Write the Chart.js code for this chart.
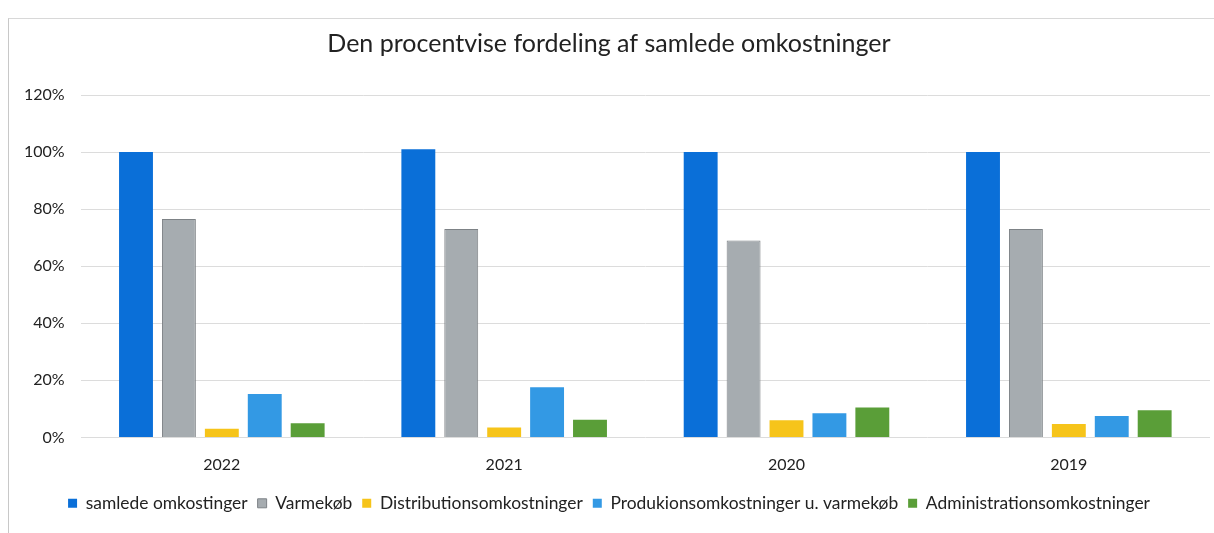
<!DOCTYPE html>
<html>
<head>
<meta charset="utf-8">
<script src="https://cdn.jsdelivr.net/npm/chart.js@4/dist/chart.umd.min.js"></script>
<style>
  body { margin: 0; background: #fff; }
  #ramme { position: absolute; left: 8px; top: 18px; width: 1206px; height: 515px; border-left: 1px solid #c8c8c8; border-top: 1px solid #d8d8d8; box-sizing: border-box; }
  #wrap { position: absolute; left: 0; top: 0; width: 1214px; height: 533px; }
</style>
</head>
<body>
<div id="ramme"></div>
<div id="wrap"><canvas id="graf"></canvas></div>
<script>
  // Kategorier og værdier
  const aar = ["2022", "2021", "2020", "2019"];
  const samlede = [100, 101, 100, 100];
  const varmekoeb = [76.5, 73, 69, 73];
  const distribution = [3, 3.5, 6, 4.7];
  const produktion = [15.2, 17.6, 8.5, 7.5];
  const administration = [5, 6.2, 10.5, 9.5];
  const yTicks = [0, 20, 40, 60, 80, 100, 120];

  const serier = [
    { label: "samlede omkostinger", data: samlede, farve: "#0a6fd8" },
    { label: "Varmekøb", data: varmekoeb, farve: "#a6acb0", kant: "#7d8286" },
    { label: "Distributionsomkostninger", data: distribution, farve: "#f6c41a" },
    { label: "Produkionsomkostninger u. varmekøb", data: produktion, farve: "#3399e4" },
    { label: "Administrationsomkostninger", data: administration, farve: "#5a9e38" }
  ];

  const ctx = document.getElementById("graf").getContext("2d");
  new Chart(ctx, {
    type: "bar",
    data: {
      labels: aar,
      datasets: serier.map((s) => ({
        label: s.label,
        data: s.data,
        backgroundColor: s.farve,
        borderColor: s.kant || s.farve,
        borderWidth: s.kant ? 1 : 0,
        categoryPercentage: 0.76,
        barPercentage: 0.79
      }))
    },
    options: {
      responsive: true,
      maintainAspectRatio: false,
      animation: false,
      layout: { padding: { top: 21, left: 8, right: 4, bottom: 11 } },
      plugins: {
        title: {
          display: true,
          text: "Den procentvise fordeling af samlede omkostninger",
          color: "#222",
          font: { family: "Lato", size: 25, weight: "normal" },
          padding: { top: 8, bottom: 36 }
        },
        legend: {
          position: "bottom",
          labels: {
            color: "#222",
            font: { family: "Lato", size: 17.4 },
            boxWidth: 9,
            boxHeight: 9,
            padding: 10
          }
        },
        tooltip: { enabled: false }
      },
      scales: {
        x: {
          grid: { display: false },
          border: { display: false },
          ticks: { color: "#222", font: { family: "Lato", size: 16 }, padding: 10 }
        },
        y: {
          min: 0,
          max: 120,
          afterBuildTicks: (akse) => { akse.ticks = yTicks.map((v) => ({ value: v })); },
          grid: { color: "#dcdcdc", drawTicks: false },
          border: { display: false },
          ticks: {
            color: "#222",
            font: { family: "Lato", size: 16 },
            padding: 16,
            callback: (v) => v + "%"
          }
        }
      }
    }
  });
</script>
</body>
</html>
